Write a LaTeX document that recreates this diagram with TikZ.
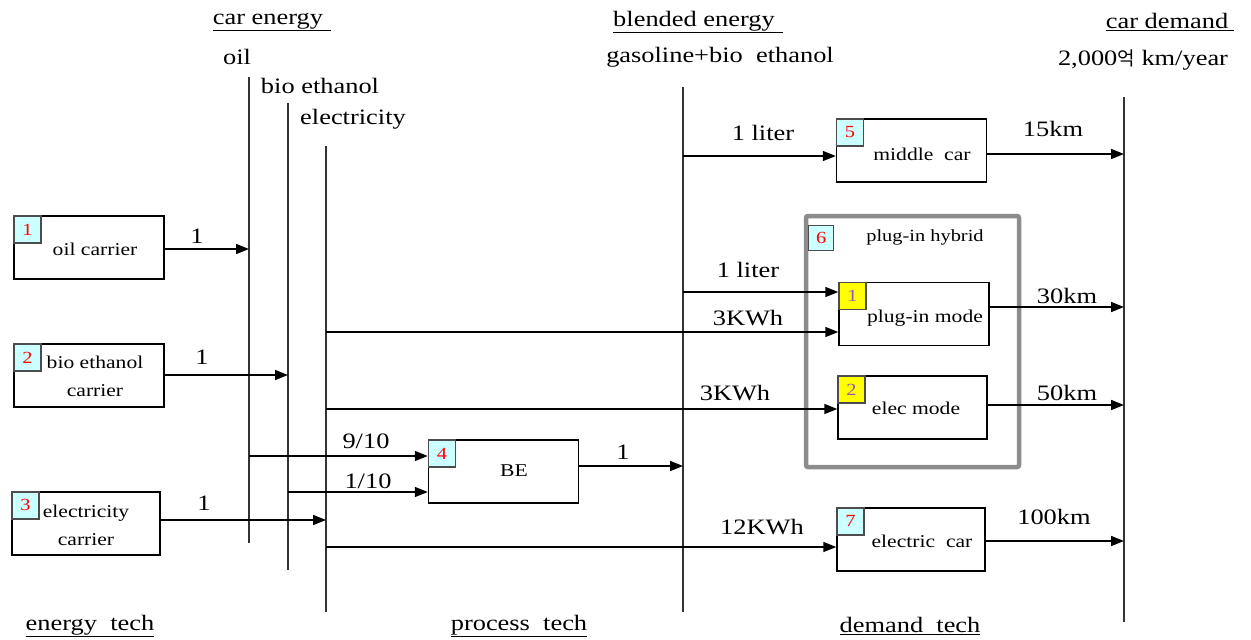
\documentclass[tikz,border=0pt]{standalone}
\usepackage{fontspec}
\setmainfont{Liberation Serif}[FakeStretch=1.2]
\newfontfamily\krfont{Noto Sans CJK KR}
\usetikzlibrary{arrows.meta}
\definecolor{tagcyan}{HTML}{CCFFFF}
\definecolor{tagyellow}{HTML}{FFFF00}
\definecolor{tagpurple}{HTML}{A050C0}
\definecolor{framegray}{HTML}{8C8C8C}
\tikzset{
  hdr/.style={font=\fontsize{22}{24}\selectfont, inner sep=0pt},
  lbl/.style={font=\fontsize{22}{24}\selectfont, inner sep=0pt},
  btxt/.style={font=\fontsize{18}{28}\selectfont, inner sep=0pt, align=center},
  techbox/.style={draw, line width=1.4pt, minimum width=150pt, minimum height=63pt, inner sep=0pt},
  tag/.style={draw=black!70, line width=1.2pt, fill=tagcyan, minimum width=27pt, minimum height=27pt, inner sep=0pt, anchor=north west, font=\fontsize{17}{17}\selectfont, text=red},
  ytag/.style={tag, fill=tagyellow, text=tagpurple},
  bus/.style={line width=1.6pt, black!80},
  arr/.style={line width=1.5pt, -{Triangle[length=13pt,width=10pt]}},
}
\begin{document}
\begin{tikzpicture}[x=1pt,y=-1pt]
\useasboundingbox (0,0) rectangle (1251,640);
% headers
\node[hdr] (hce) at (272,22) {\underline{car energy\hspace{8pt}}};
\node[hdr] (hoil) at (237,57) {oil};
\node[hdr] (hbio) at (320,86) {bio ethanol};
\node[hdr] (hel) at (353,119) {electricity};
\node[hdr] (hbe) at (698,22) {\underline{blended energy\hspace{8pt}}};
\node[hdr] (hgas) at (720,57) {gasoline+bio\ \ ethanol};
\node[hdr] (hcd) at (1170,22) {\underline{car demand\hspace{6pt}}};
\node[hdr] (hkm) at (1143,60) {2,000{\krfont\fontsize{19}{20}\selectfont 억} km/year};
\node[hdr] (fen) at (90,626) {\underline{energy\ \ tech}};
\node[hdr] (fpr) at (519,626) {\underline{process\ \ tech}};
\node[hdr] (fde) at (910,626) {\underline{demand\ \ tech}};
% vertical buses
\coordinate (oilT) at (249,77);  \coordinate (oilB) at (249,543);
\coordinate (bioT) at (288,103); \coordinate (bioB) at (288,570);
\coordinate (elT) at (326,146);  \coordinate (elB) at (326,612);
\coordinate (blT) at (683,87);   \coordinate (blB) at (683,612);
\coordinate (cdT) at (1124,97);  \coordinate (cdB) at (1124,622);
\draw[bus] (oilT) -- (oilB);
\draw[bus] (bioT) -- (bioB);
\draw[bus] (elT) -- (elB);
\draw[bus] (blT) -- (blB);
\draw[bus] (cdT) -- (cdB);
% container
\node[draw=framegray, line width=4.5pt, rounded corners=2pt, minimum width=213pt, minimum height=251pt, inner sep=0pt] (b6) at (912.5,341.5) {};
\node[tag, minimum width=25pt, minimum height=25pt] (t6) at (808,225) {6};
\node[btxt, font=\fontsize{17}{17}\selectfont] (x6) at (925,237) {plug-in hybrid};
% boxes
\node[techbox] (b1) at (89,247.5) {};
\node[techbox] (b2) at (89,375.5) {};
\node[techbox, minimum width=148pt] (b3) at (86,523.5) {};
\node[techbox] (b4) at (503.5,471.5) {};
\node[techbox] (b5) at (911.5,150.5) {};
\node[techbox] (b61) at (914,314) {};
\node[techbox, minimum width=149pt] (b62) at (912.5,407.5) {};
\node[techbox, minimum width=148pt] (b7) at (911,539.5) {};
% tags
\node[tag] (t1) at (b1.north west) {1};
\node[tag] (t2) at (b2.north west) {2};
\node[tag] (t3) at (b3.north west) {3};
\node[tag] (t4) at (b4.north west) {4};
\node[tag] (t5) at (b5.north west) {5};
\node[ytag] (t61) at (b61.north west) {1};
\node[ytag] (t62) at (b62.north west) {2};
\node[tag] (t7) at (b7.north west) {7};
% box texts
\node[btxt] (x1) at (95,249) {oil carrier};
\node[btxt] (x2) at (95,376) {bio ethanol\\carrier};
\node[btxt] (x3) at (86,525) {electricity\\carrier};
\node[btxt] (x4) at (514,471) {BE};
\node[btxt] (x5) at (922,154) {middle\ \ car};
\node[btxt] (x61) at (925,318) {plug-in mode};
\node[btxt] (x62) at (916,408) {elec mode};
\node[btxt] (x7) at (922,541) {electric\ \ car};
% arrows energy tech -> car energy
\draw[arr] (b1.east |- 0,249) -- (oilT |- 0,249);
\node[lbl] (l1) at (197,236) {1};
\draw[arr] (b2.east |- 0,375) -- (bioT |- 0,375);
\node[lbl] (l2) at (202,357) {1};
\draw[arr] (b3.east |- 0,520) -- (elT |- 0,520);
\node[lbl] (l3) at (204,503) {1};
% process
\draw[arr] (oilT |- 0,456) -- (b4.west |- 0,456);
\node[lbl] (l4) at (366,441) {9/10};
\draw[arr] (bioT |- 0,492) -- (b4.west |- 0,492);
\node[lbl] (l5) at (368,481) {1/10};
\draw[arr] (b4.east |- 0,466) -- (blT |- 0,466);
\node[lbl] (l6) at (623,452) {1};
% demand tech inputs
\draw[arr] (blT |- 0,156) -- (b5.west |- 0,156);
\node[lbl] (l7) at (763,133) {1 liter};
\draw[arr] (blT |- 0,292) -- (b61.west |- 0,292);
\node[lbl] (l8) at (748,270) {1 liter};
\draw[arr] (elT |- 0,332) -- (b61.west |- 0,332);
\node[lbl] (l9) at (748,318) {3KWh};
\draw[arr] (elT |- 0,409) -- (b62.west |- 0,409);
\node[lbl] (l10) at (735,393) {3KWh};
\draw[arr] (elT |- 0,547) -- (b7.west |- 0,547);
\node[lbl] (l11) at (762,527) {12KWh};
% outputs to car demand
\draw[arr] (b5.east |- 0,154) -- (cdT |- 0,154);
\node[lbl] (l12) at (1053,129) {15km};
\draw[arr] (b61.east |- 0,307) -- (cdT |- 0,307);
\node[lbl] (l13) at (1067,296) {30km};
\draw[arr] (b62.east |- 0,405) -- (cdT |- 0,405);
\node[lbl] (l14) at (1067,393) {50km};
\draw[arr] (b7.east |- 0,541) -- (cdT |- 0,541);
\node[lbl] (l15) at (1054,517) {100km};
\end{tikzpicture}
\end{document}
